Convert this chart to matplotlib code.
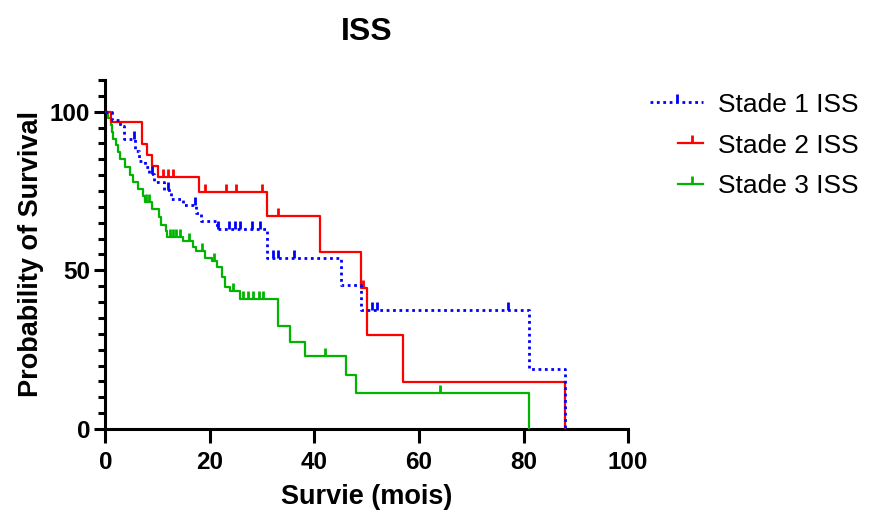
import numpy as np
import matplotlib.pyplot as plt
from matplotlib.lines import Line2D

plt.rcParams['font.family'] = ['Liberation Sans', 'DejaVu Sans']

# Kaplan-Meier steps: event times (months) and survival (%) after each step
s1_time = [0, 1.3, 2.8, 3.6, 5.6, 6.5, 7.5, 8.4, 9.3, 11.2, 12.6, 14.8, 17.4, 18.2, 21.3, 31, 45, 49, 81, 88]
s1_surv = [100, 97.5, 95.5, 91.5, 87.5, 84.5, 82.5, 80.4, 77.8, 75.2, 72.5, 70.5, 68, 65.6, 63.1, 53.8, 45.4, 37.6, 18.8, 0]
s1_cens = [5.4, 9.0, 12.0, 17.1, 21.6, 23.7, 24.8, 25.8, 28, 29.6, 32.1, 33.1, 36, 51, 52, 77]

s2_time = [0, 1, 7, 8, 9, 10, 18, 31, 41, 49, 50, 57, 88]
s2_surv = [100, 96.6, 89.7, 86.2, 82.8, 79.3, 74.8, 67.2, 55.9, 44.5, 29.6, 14.8, 0]
s2_cens = [11, 12, 13, 19, 23, 25, 30, 33, 49.3]

s3_time = [0, 0.5, 1, 1.2, 1.5, 2, 2.4, 2.8, 3.75, 4.7, 5.3, 6.2, 7.1, 7.5, 9.0, 10.3, 10.6, 11.5, 11.8,
           14.8, 16.8, 17.4, 19, 20.3, 21.3, 22.3, 22.9, 23.8, 25.7, 33, 35.3, 38.2, 46, 48, 81]
s3_surv = [100, 97.9, 95.7, 93.6, 91.5, 89.4, 87.2, 85.1, 82.5, 80, 77.8, 75.6, 73.4, 71.4, 69.3, 66.7, 64.3, 62.5, 60.4,
           59.4, 57.3, 56.2, 54, 53, 51, 47.8, 44.6, 43.5, 41, 32.4, 27.5, 22.9, 17.1, 11.4, 0]
s3_cens = [7.8, 8.4, 12.4, 13, 13.6, 14.3, 16, 18.4, 20.7, 24.5, 26.4, 27.3, 28.3, 29.3, 30.2, 42, 64]

labels = ['Stade 1 ISS', 'Stade 2 ISS', 'Stade 3 ISS']
colors = ['#0000ff', '#ff0000', '#00b400']
styles = [(0, (1, 1.3)), '-', '-']


def surv_at(times, surv, t):
    idx = np.searchsorted(times, t, side='right') - 1
    return np.asarray(surv)[idx]


fig = plt.figure(figsize=(8.69, 5.11), dpi=100)
ax = fig.add_axes([0.1213, 0.1605, 0.6014, 0.6830])

curves = [(s1_time, s1_surv, s1_cens), (s2_time, s2_surv, s2_cens), (s3_time, s3_surv, s3_cens)]
for i in [2, 1, 0]:
    t, s, c = curves[i]
    lw = 2.0 if i == 0 else 1.6
    ax.step(t, s, where='post', color=colors[i], lw=lw, ls=styles[i], zorder=3 + (2 - i))
    ax.plot(c, surv_at(t, s, c), ls='none', marker=2, ms=6, mew=2,
            color=colors[i], zorder=3 + (2 - i))

ax.set_xlim(0, 100)
ax.set_ylim(0, 110)
ax.set_xticks(np.arange(0, 101, 20))
ax.set_yticks([0, 50, 100])
ax.set_yticks(np.arange(0, 111, 5), minor=True)
for side in ['top', 'right']:
    ax.spines[side].set_visible(False)
for side in ['left', 'bottom']:
    ax.spines[side].set_linewidth(2.2)
ax.tick_params(axis='x', which='major', length=10, width=2.2, pad=6, labelsize=17.5)
ax.tick_params(axis='y', which='major', length=8, width=2.2, pad=3, labelsize=17.5)
ax.tick_params(axis='y', which='minor', length=5, width=2.2)
for lab in ax.get_xticklabels() + ax.get_yticklabels():
    lab.set_fontweight('bold')

ax.set_xlabel('Survie (mois)', fontsize=19.5, fontweight='bold', labelpad=7)
ax.set_ylabel('Probability of Survival', fontsize=19.5, fontweight='bold', labelpad=4)
ax.set_title('ISS', fontsize=23, fontweight='bold', pad=29)

# legend drawn by hand on the figure
leg_base = [0.7814, 0.7013, 0.6216]
leg_start = [0.748, 0.780, 0.780]
leg_tick = [0.779, 0.796, 0.796]
for i in range(3):
    yl = leg_base[i] + 0.019
    fig.add_artist(Line2D([leg_start[i], 0.809], [yl, yl], color=colors[i],
                          lw=2.0 if i == 0 else 1.6, ls=styles[i]))
    fig.add_artist(Line2D([leg_tick[i]], [yl], color=colors[i], marker=2,
                          ms=6, mew=2, ls='none'))
    fig.text(0.8262, leg_base[i], labels[i], fontsize=19, va='baseline')

fig.savefig('out.png', dpi=100)
